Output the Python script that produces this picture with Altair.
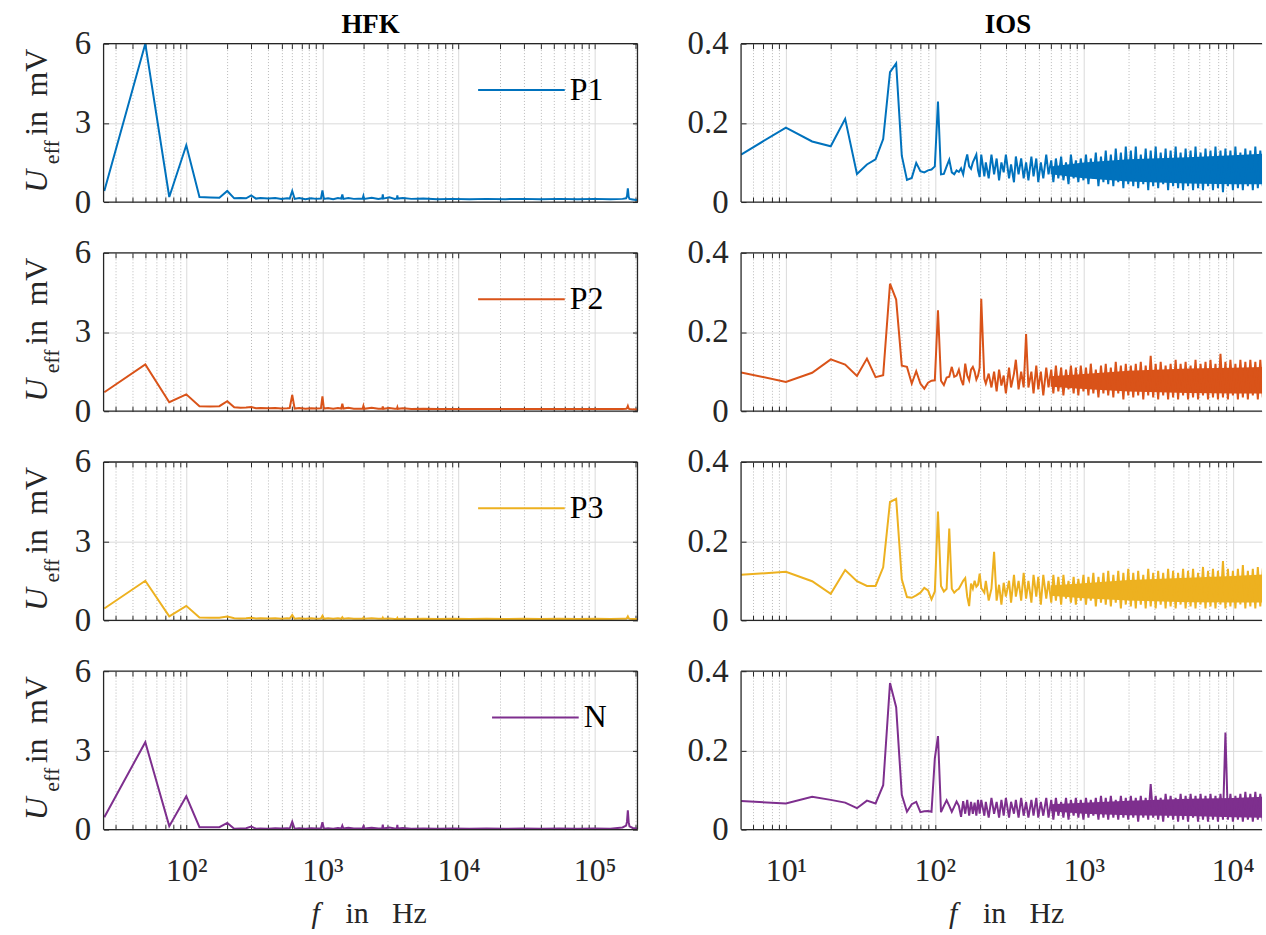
import math
import altair as alt
import pandas as pd

FONT = "Liberation Serif"
INK = "#262626"

# ---------------- data ----------------
SERIES = ["P1", "P2", "P3", "N"]
COLORS = ["#0072BD", "#D95319", "#EDB120", "#7E2F8E"]
PANEL_TITLES = ["HFK", "IOS"]

HFK_F = [25, 50, 75, 100, 125, 150, 175, 200, 225, 250,
         275, 300, 325, 350, 400, 450, 500, 550, 575, 600,
         625, 675, 750, 825, 900, 975, 1000, 1025, 1100, 1200,
         1300, 1375, 1400, 1425, 1550, 1700, 1975, 2000, 2025, 2300,
         2575, 2750, 2775, 2800, 3100, 3400, 3525, 3550, 3575, 3900,
         4500, 5500, 7000, 9000, 12000, 16000, 22000, 30000, 40000, 55000,
         75000, 100000, 130000, 160000, 170000, 172500, 175000, 177500, 180000, 190000,
         210000]

HFK_P1 = [0.42, 6.0, 0.19, 2.15, 0.19, 0.17, 0.16, 0.42, 0.14, 0.15,
          0.14, 0.25, 0.13, 0.15, 0.13, 0.15, 0.12, 0.14, 0.13, 0.42,
          0.12, 0.15, 0.11, 0.14, 0.12, 0.13, 0.44, 0.12, 0.14, 0.11,
          0.15, 0.13, 0.29, 0.12, 0.15, 0.12, 0.13, 0.23, 0.12, 0.16,
          0.12, 0.14, 0.29, 0.13, 0.18, 0.12, 0.14, 0.25, 0.13, 0.15,
          0.12, 0.13, 0.11, 0.12, 0.11, 0.12, 0.11, 0.12, 0.11, 0.12,
          0.11, 0.12, 0.11, 0.12, 0.14, 0.22, 0.52, 0.20, 0.12, 0.10,
          0.06]
HFK_P2 = [0.72, 1.77, 0.34, 0.64, 0.19, 0.18, 0.19, 0.38, 0.15, 0.13,
          0.14, 0.16, 0.11, 0.12, 0.11, 0.12, 0.10, 0.11, 0.12, 0.62,
          0.10, 0.12, 0.09, 0.11, 0.10, 0.11, 0.56, 0.10, 0.12, 0.09,
          0.12, 0.10, 0.28, 0.10, 0.13, 0.09, 0.10, 0.20, 0.09, 0.13,
          0.09, 0.10, 0.18, 0.09, 0.12, 0.09, 0.10, 0.15, 0.09, 0.11,
          0.08, 0.09, 0.08, 0.08, 0.08, 0.08, 0.08, 0.08, 0.08, 0.08,
          0.08, 0.08, 0.08, 0.08, 0.09, 0.12, 0.20, 0.10, 0.08, 0.07,
          0.06]
HFK_P3 = [0.45, 1.50, 0.15, 0.55, 0.11, 0.10, 0.10, 0.15, 0.08, 0.07,
          0.08, 0.10, 0.07, 0.08, 0.07, 0.08, 0.06, 0.08, 0.07, 0.20,
          0.06, 0.08, 0.06, 0.08, 0.06, 0.07, 0.17, 0.06, 0.08, 0.06,
          0.08, 0.06, 0.12, 0.06, 0.08, 0.06, 0.06, 0.10, 0.06, 0.08,
          0.06, 0.06, 0.10, 0.06, 0.07, 0.05, 0.06, 0.09, 0.05, 0.06,
          0.05, 0.06, 0.05, 0.06, 0.05, 0.06, 0.05, 0.06, 0.05, 0.06,
          0.05, 0.06, 0.05, 0.06, 0.06, 0.09, 0.15, 0.08, 0.06, 0.05,
          0.05]
HFK_N = [0.47, 3.31, 0.13, 1.26, 0.09, 0.09, 0.09, 0.25, 0.03, 0.04,
         0.05, 0.11, 0.03, 0.04, 0.03, 0.05, 0.04, 0.05, 0.04, 0.30,
         0.03, 0.05, 0.03, 0.05, 0.04, 0.05, 0.28, 0.03, 0.05, 0.03,
         0.06, 0.04, 0.15, 0.04, 0.07, 0.04, 0.05, 0.12, 0.04, 0.07,
         0.04, 0.05, 0.19, 0.04, 0.08, 0.04, 0.05, 0.18, 0.04, 0.06,
         0.03, 0.04, 0.03, 0.04, 0.03, 0.04, 0.03, 0.04, 0.03, 0.04,
         0.03, 0.04, 0.03, 0.08, 0.15, 0.30, 0.73, 0.28, 0.12, 0.06,
         0.03]

IOS_F = [5, 10, 15, 20, 25, 30, 35, 40, 45, 50,
         55, 60, 65, 70, 75, 80, 85, 90, 95, 100,
         105, 110, 115, 120, 125, 130, 135, 140, 145, 150,
         155, 160, 165, 170, 175, 180, 185, 190, 195, 200,
         205, 215, 220, 230, 240, 250, 260, 270, 280, 290,
         300, 315, 325, 340, 350, 365, 380, 395, 410, 425,
         445, 460, 480, 495, 515, 535, 560, 580, 605, 625,
         650, 675, 705, 730, 760, 790, 820, 855, 885, 920,
         955, 995, 1035, 1075, 1115, 1160, 1205, 1255, 1305, 1355,
         1405, 1460, 1520, 1580, 1640, 1705, 1775, 1845, 1915, 1990,
         2070, 2150, 2235, 2320, 2415, 2510, 2605, 2710, 2815, 2925,
         3040, 3160, 3285, 3415, 3545, 3685, 3830, 3980, 4140, 4300,
         4470, 4645, 4830, 5015, 5215, 5420, 5630, 5855, 6085, 6320,
         6570, 6830, 7095, 7375, 7665, 7965, 8280, 8605, 8940, 9290,
         9655, 10035, 10430, 10840, 11265, 11705, 12165, 12645, 13140, 13655,
         14195, 14750, 15330, 15930, 16555]

IOS_P1 = [0.120, 0.188, 0.153, 0.141, 0.210, 0.071, 0.095, 0.108, 0.159, 0.328,
          0.350, 0.117, 0.056, 0.061, 0.099, 0.078, 0.075, 0.080, 0.082, 0.090,
          0.254, 0.070, 0.071, 0.090, 0.107, 0.075, 0.070, 0.080, 0.076, 0.085,
          0.070, 0.100, 0.120, 0.090, 0.084, 0.100, 0.110, 0.120, 0.080, 0.063,
          0.12, 0.065, 0.1, 0.06, 0.12, 0.07, 0.11, 0.055, 0.1, 0.075,
          0.12, 0.06, 0.095, 0.05, 0.115, 0.07, 0.11, 0.06, 0.1, 0.055,
          0.115, 0.065, 0.11, 0.05, 0.1, 0.06, 0.12, 0.07, 0.105, 0.05,
          0.11, 0.06, 0.115, 0.055, 0.1, 0.045, 0.12, 0.06, 0.105, 0.05,
          0.11, 0.055, 0.12, 0.045, 0.11, 0.06, 0.125, 0.04, 0.115, 0.05,
          0.13, 0.045, 0.12, 0.04, 0.135, 0.05, 0.125, 0.035, 0.14, 0.045,
          0.13, 0.04, 0.14, 0.035, 0.12, 0.045, 0.135, 0.03, 0.13, 0.04,
          0.14, 0.035, 0.125, 0.045, 0.135, 0.03, 0.13, 0.04, 0.14, 0.035,
          0.125, 0.03, 0.135, 0.04, 0.13, 0.03, 0.14, 0.035, 0.125, 0.03,
          0.135, 0.04, 0.13, 0.03, 0.14, 0.035, 0.13, 0.025, 0.135, 0.04,
          0.13, 0.03, 0.14, 0.035, 0.125, 0.03, 0.135, 0.04, 0.13, 0.03,
          0.14, 0.035, 0.13, 0.04, 0.145]
IOS_P2 = [0.098, 0.074, 0.097, 0.131, 0.118, 0.089, 0.133, 0.086, 0.091, 0.322,
          0.282, 0.115, 0.112, 0.070, 0.101, 0.070, 0.057, 0.072, 0.077, 0.078,
          0.255, 0.077, 0.066, 0.085, 0.087, 0.112, 0.087, 0.090, 0.105, 0.080,
          0.066, 0.120, 0.090, 0.078, 0.105, 0.112, 0.100, 0.080, 0.090, 0.110,
          0.284, 0.082, 0.07, 0.095, 0.06, 0.1, 0.05, 0.105, 0.065, 0.09,
          0.045, 0.11, 0.06, 0.095, 0.13, 0.055, 0.1, 0.06, 0.195, 0.06,
          0.1, 0.045, 0.115, 0.055, 0.1, 0.04, 0.11, 0.06, 0.105, 0.045,
          0.115, 0.05, 0.11, 0.04, 0.105, 0.055, 0.115, 0.045, 0.11, 0.04,
          0.115, 0.05, 0.11, 0.04, 0.12, 0.045, 0.105, 0.035, 0.115, 0.045,
          0.12, 0.04, 0.11, 0.035, 0.125, 0.045, 0.115, 0.03, 0.12, 0.04,
          0.115, 0.035, 0.12, 0.04, 0.125, 0.03, 0.115, 0.04, 0.14, 0.035,
          0.12, 0.03, 0.125, 0.04, 0.115, 0.03, 0.12, 0.035, 0.13, 0.03,
          0.12, 0.04, 0.125, 0.03, 0.115, 0.035, 0.13, 0.03, 0.12, 0.04,
          0.125, 0.03, 0.13, 0.035, 0.12, 0.03, 0.145, 0.035, 0.125, 0.03,
          0.13, 0.04, 0.12, 0.03, 0.13, 0.035, 0.125, 0.03, 0.13, 0.04,
          0.125, 0.03, 0.13, 0.035, 0.12]
IOS_P3 = [0.115, 0.123, 0.099, 0.067, 0.127, 0.099, 0.087, 0.087, 0.134, 0.299,
          0.307, 0.104, 0.059, 0.057, 0.063, 0.070, 0.082, 0.076, 0.053, 0.073,
          0.275, 0.087, 0.073, 0.080, 0.232, 0.080, 0.070, 0.076, 0.080, 0.090,
          0.100, 0.107, 0.060, 0.036, 0.093, 0.080, 0.100, 0.085, 0.090, 0.118,
          0.082, 0.07, 0.1, 0.05, 0.08, 0.173, 0.05, 0.09, 0.04, 0.095,
          0.06, 0.1, 0.045, 0.115, 0.06, 0.1, 0.05, 0.12, 0.055, 0.1,
          0.045, 0.115, 0.06, 0.11, 0.04, 0.115, 0.055, 0.1, 0.045, 0.115,
          0.05, 0.11, 0.04, 0.115, 0.055, 0.1, 0.045, 0.11, 0.04, 0.105,
          0.05, 0.115, 0.04, 0.11, 0.05, 0.12, 0.035, 0.11, 0.045, 0.12,
          0.04, 0.125, 0.035, 0.115, 0.045, 0.125, 0.03, 0.12, 0.04, 0.13,
          0.035, 0.12, 0.03, 0.125, 0.04, 0.115, 0.03, 0.13, 0.035, 0.12,
          0.03, 0.125, 0.04, 0.12, 0.03, 0.13, 0.035, 0.125, 0.03, 0.12,
          0.04, 0.13, 0.03, 0.125, 0.035, 0.13, 0.03, 0.12, 0.04, 0.135,
          0.03, 0.125, 0.035, 0.13, 0.03, 0.125, 0.04, 0.15, 0.03, 0.13,
          0.035, 0.125, 0.03, 0.13, 0.04, 0.14, 0.03, 0.125, 0.035, 0.13,
          0.03, 0.135, 0.035, 0.13, 0.14]
IOS_N = [0.072, 0.066, 0.083, 0.075, 0.068, 0.054, 0.073, 0.066, 0.112, 0.370,
         0.309, 0.088, 0.045, 0.064, 0.070, 0.044, 0.046, 0.047, 0.045, 0.180,
         0.236, 0.044, 0.060, 0.074, 0.060, 0.045, 0.058, 0.071, 0.060, 0.032,
         0.072, 0.040, 0.075, 0.035, 0.070, 0.040, 0.068, 0.035, 0.075, 0.040,
         0.075, 0.035, 0.07, 0.03, 0.08, 0.04, 0.07, 0.03, 0.075, 0.035,
         0.08, 0.03, 0.07, 0.04, 0.075, 0.03, 0.08, 0.035, 0.07, 0.03,
         0.075, 0.035, 0.08, 0.03, 0.07, 0.035, 0.08, 0.03, 0.075, 0.025,
         0.08, 0.035, 0.07, 0.03, 0.08, 0.025, 0.075, 0.035, 0.08, 0.03,
         0.075, 0.025, 0.08, 0.03, 0.075, 0.035, 0.08, 0.025, 0.085, 0.03,
         0.08, 0.025, 0.085, 0.03, 0.075, 0.025, 0.085, 0.03, 0.08, 0.025,
         0.085, 0.03, 0.08, 0.02, 0.085, 0.03, 0.08, 0.025, 0.115, 0.03,
         0.085, 0.025, 0.08, 0.02, 0.09, 0.03, 0.085, 0.025, 0.08, 0.02,
         0.09, 0.025, 0.085, 0.02, 0.09, 0.03, 0.085, 0.02, 0.09, 0.025,
         0.085, 0.02, 0.09, 0.025, 0.085, 0.02, 0.09, 0.025, 0.245, 0.025,
         0.09, 0.02, 0.085, 0.025, 0.09, 0.02, 0.095, 0.025, 0.09, 0.02,
         0.095, 0.025, 0.09, 0.02, 0.1]

# dense-noise core of the IOS spectra (where the bins merge into a solid band)
IOS_BAND_F = [600, 1000, 2000, 5000, 10000, 16555]
IOS_BAND_LO = [[0.070, 0.060, 0.052, 0.047, 0.045, 0.045],
               [0.062, 0.056, 0.050, 0.046, 0.045, 0.045],
               [0.062, 0.056, 0.050, 0.046, 0.045, 0.045],
               [0.046, 0.040, 0.036, 0.034, 0.031, 0.030]]
IOS_BAND_HI = [[0.090, 0.100, 0.108, 0.113, 0.118, 0.122],
               [0.088, 0.094, 0.102, 0.108, 0.110, 0.112],
               [0.088, 0.094, 0.102, 0.108, 0.112, 0.116],
               [0.064, 0.068, 0.073, 0.078, 0.080, 0.083]]

HFK_VALUES = [HFK_P1, HFK_P2, HFK_P3, HFK_N]
IOS_VALUES = [IOS_P1, IOS_P2, IOS_P3, IOS_N]

# axis ticks / labels
HFK_DOMAIN = [24.7, 206000]
IOS_DOMAIN = [5, 15740]
HFK_XTICKS = [30, 40, 50, 60, 70, 80, 90,
              100, 200, 300, 400, 500, 600, 700, 800, 900,
              1000, 2000, 3000, 4000, 5000, 6000, 7000, 8000, 9000,
              10000, 20000, 30000, 40000, 50000, 60000, 70000, 80000, 90000,
              100000, 200000]
IOS_XTICKS = [6, 7, 8, 9,
              10, 20, 30, 40, 50, 60, 70, 80, 90,
              100, 200, 300, 400, 500, 600, 700, 800, 900,
              1000, 2000, 3000, 4000, 5000, 6000, 7000, 8000, 9000,
              10000]
HFK_DECADES = [100, 1000, 10000, 100000]
IOS_DECADES = [10, 100, 1000, 10000]
HFK_YTICKS = [0, 3, 6]
IOS_YTICKS = [0, 0.2, 0.4]
SUP = {1: "\u00b9", 2: "\u00b2", 3: "\u00b3", 4: "\u2074", 5: "\u2075"}

# ---------------- layout ----------------
LW, RW, H = 536, 523, 159
HSPACE, VSPACE = 104, 51
TICK = 5


def major_test(decades):
    return "indexof([" + ",".join(str(d) for d in decades) + "], datum.value) >= 0"


def bottom_axis(ticks, decades, show):
    test = major_test(decades)
    kw = dict(values=ticks, orient="bottom", offset=-TICK, domain=False,
              ticks=True, tickSize=TICK, tickColor=INK, tickWidth=1,
              grid=True,
              gridColor={"condition": {"test": test, "value": "#dadada"}, "value": "#b8b8b8"},
              gridDash={"condition": {"test": test, "value": []}, "value": [1, 2]},
              gridWidth=1, title=None, labels=show)
    if show:
        expr = "''"
        for d in decades:
            e = int(round(math.log10(d)))
            expr = f"datum.value == {d} ? '10{SUP[e]}' : ({expr})"
        kw.update(labelExpr=expr, labelFont=FONT, labelFontSize=32, labelColor=INK,
                  labelPadding=26, labelOverlap=False, labelFlush=False, labelBaseline="top")
    return alt.Axis(**kw)


def top_axis(ticks):
    return alt.Axis(values=ticks, orient="top", offset=-TICK, domain=False, ticks=True,
                    tickSize=TICK, tickColor=INK, tickWidth=1, grid=False, labels=False, title=None)


def left_axis(ticks, expr):
    return alt.Axis(values=ticks, orient="left", offset=-TICK, domain=False, ticks=True,
                    tickSize=TICK, tickColor=INK, tickWidth=1, grid=True, gridColor="#dadada",
                    gridWidth=1, labels=True, labelExpr=expr, labelFont=FONT, labelFontSize=33,
                    labelColor=INK, labelPadding=13, labelFlush=False, labelOverlap=False, title=None)


def right_axis(ticks):
    return alt.Axis(values=ticks, orient="right", offset=-TICK, domain=False, ticks=True,
                    tickSize=TICK, tickColor=INK, tickWidth=1, grid=False, labels=False, title=None)


def one():
    return pd.DataFrame({"k": [0]})


def txt(s, x, y, size, angle=0, italic=False, bold=False, color=INK):
    return alt.Chart(one()).mark_text(
        text=s, font=FONT, fontSize=size, fontStyle="italic" if italic else "normal",
        fontWeight="bold" if bold else "normal",
        angle=angle, align="center", baseline="alphabetic", color=color
    ).encode(x=alt.value(x), y=alt.value(y))


def rule(**enc):
    return alt.Chart(one()).mark_rule(color=INK, strokeWidth=1.3).encode(**enc)


def panel(col, row):
    left = col == 0
    F = HFK_F if left else IOS_F
    V = (HFK_VALUES if left else IOS_VALUES)[row]
    n = min(len(F), len(V))
    name, color = SERIES[row], COLORS[row]
    df = pd.DataFrame({"f": F[:n], "u": V[:n], "series": [name] * n})
    W = LW if left else RW
    xs = alt.Scale(type="log", domain=HFK_DOMAIN if left else IOS_DOMAIN, nice=False)
    yt = HFK_YTICKS if left else IOS_YTICKS
    ys = alt.Scale(domain=[0, yt[-1]], nice=False, zero=True)
    xt = HFK_XTICKS if left else IOS_XTICKS
    dec = HFK_DECADES if left else IOS_DECADES
    yexpr = "format(datum.value, 'd')" if left else "datum.value == 0 ? '0' : format(datum.value, '.1f')"

    ghost = alt.Chart(df).mark_line(opacity=0).encode(
        x=alt.X("f:Q", scale=xs, axis=top_axis(xt)),
        y=alt.Y("u:Q", scale=ys, axis=right_axis(yt) if left else None),
    )
    enc = dict(
        x=alt.X("f:Q", scale=xs, axis=bottom_axis(xt, dec, row == 3)),
        y=alt.Y("u:Q", scale=ys, axis=left_axis(yt, yexpr)),
    )
    layers = [ghost]
    if left:
        enc["color"] = alt.Color(
            "series:N", scale=alt.Scale(domain=[name], range=[color]),
            legend=alt.Legend(orient="none", legendX=375 if name != "N" else 389, legendY=2,
                              title=None, symbolType="stroke", symbolSize=7569,
                              symbolStrokeWidth=2, labelFont=FONT, labelFontSize=32,
                              labelColor="black", labelOffset=4, padding=0))
        line = alt.Chart(df).mark_line(strokeWidth=2, clip=True).encode(**enc)
    else:
        bdf = pd.DataFrame({"f": IOS_BAND_F, "lo": IOS_BAND_LO[row], "hi": IOS_BAND_HI[row]})
        band = alt.Chart(bdf).mark_area(color=color, opacity=1, clip=True).encode(
            x=alt.X("f:Q", scale=xs, axis=None),
            y=alt.Y("lo:Q", scale=ys, axis=None),
            y2="hi:Q",
        )
        layers.append(band)
        line = alt.Chart(df).mark_line(strokeWidth=2, clip=True, color=color).encode(**enc)
    layers.append(line)

    layers += [rule(x=alt.value(0), y=alt.value(0), y2=alt.value(H)),
               rule(x=alt.value(0), x2=alt.value(W), y=alt.value(0)),
               rule(x=alt.value(0), x2=alt.value(W), y=alt.value(H))]
    if left:
        layers.append(rule(x=alt.value(W), y=alt.value(0), y2=alt.value(H)))
        layers += [txt("U", -57, 138, 32, angle=270, italic=True),
                   txt("eff", -45, 109, 22, angle=270),
                   txt("in", -57, 80, 32, angle=270),
                   txt("mV", -57, 29, 32, angle=270)]
    if row == 3:
        layers += [txt("f", 213, H + 94, 30, italic=True),
                   txt("in", 254.5, H + 94, 30),
                   txt("Hz", 307, H + 94, 30)]
    if row == 0:
        layers.append(txt(PANEL_TITLES[col], (LW if left else 536) / 2, -11, 27, bold=True, color="black"))
    return alt.layer(*layers).resolve_axis(x="independent", y="independent").properties(width=W, height=H)


panels = [panel(c, r) for r in range(4) for c in range(2)]
chart = alt.concat(*panels, columns=2, spacing={"row": VSPACE, "column": HSPACE},
                   bounds="flush").resolve_scale(color="independent").properties(
    padding={"left": 20, "top": 8, "right": 0, "bottom": 0}
).configure(background="white").configure_view(stroke="transparent")

chart.save("out.html", embed_options={"renderer": "svg", "actions": False})
